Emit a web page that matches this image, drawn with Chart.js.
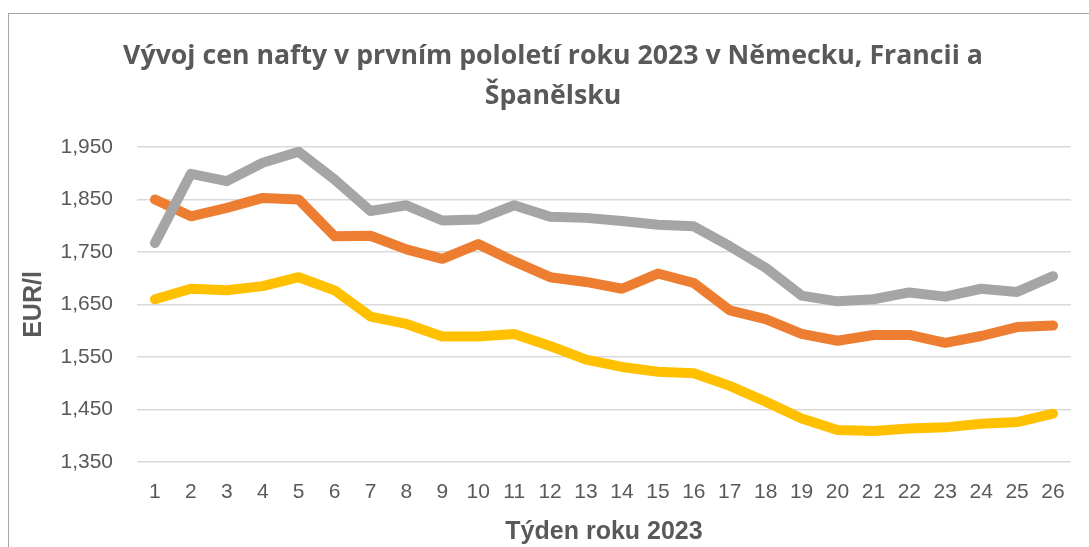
<!DOCTYPE html>
<html>
<head>
<meta charset="utf-8">
<script src="https://cdn.jsdelivr.net/npm/chart.js@4"></script>
<style>
  html, body { margin: 0; padding: 0; background: #fff; overflow: hidden; }
  #wrap { position: relative; width: 1089px; height: 547px; }
  #frame { position: absolute; left: 8px; top: 13px; width: 1200px; height: 600px;
           border-left: 1.5px solid #a6a6a6; border-top: 1.5px solid #a6a6a6; }
  canvas { position: absolute; left: 0; top: 0; }
</style>
</head>
<body>
<div id="wrap">
  <div id="frame"></div>
  <canvas id="fuelChart" width="1089" height="547"></canvas>
</div>
<script>
// weeks of 2023
const weeks = ['1', '2', '3', '4', '5', '6', '7', '8', '9', '10', '11', '12', '13',
               '14', '15', '16', '17', '18', '19', '20', '21', '22', '23', '24', '25', '26'];

// EUR per litre
const germany = [1.767, 1.899, 1.885, 1.920, 1.941, 1.888, 1.828, 1.839, 1.810, 1.812, 1.839, 1.817, 1.815,
                 1.809, 1.802, 1.799, 1.761, 1.720, 1.667, 1.656, 1.660, 1.673, 1.665, 1.680, 1.674, 1.704];
const france = [1.850, 1.818, 1.834, 1.853, 1.850, 1.780, 1.781, 1.755, 1.737, 1.765, 1.732, 1.702, 1.693,
                1.680, 1.709, 1.691, 1.639, 1.622, 1.594, 1.581, 1.592, 1.592, 1.577, 1.590, 1.607, 1.610];
const spain = [1.660, 1.680, 1.677, 1.685, 1.702, 1.677, 1.627, 1.613, 1.589, 1.589, 1.594, 1.571, 1.545,
               1.531, 1.522, 1.519, 1.495, 1.465, 1.433, 1.411, 1.409, 1.414, 1.416, 1.423, 1.426, 1.442];

const yMin = 1.35;
const yMax = 1.95;
const yStep = 0.1;

const textColor = '#595959';

function lineSet(label, data, color) {
    return {
        label: label,
        data: data,
        borderColor: color,
        backgroundColor: color,
        borderWidth: 10,
        borderCapStyle: 'round',
        borderJoinStyle: 'round',
        pointRadius: 0,
        tension: 0,
        fill: false
    };
}

document.addEventListener('DOMContentLoaded', function () {
    const ctx = document.getElementById('fuelChart').getContext('2d');
    new Chart(ctx, {
        type: 'line',
        data: {
            labels: weeks,
            // first dataset is drawn on top
            datasets: [
                lineSet('Německo', germany, '#a5a5a5'),
                lineSet('Francie', france, '#ed7d31'),
                lineSet('Španělsko', spain, '#ffc000')
            ]
        },
        options: {
            responsive: false,
            animation: false,
            layout: { padding: { left: 35, right: 18, top: 0, bottom: 0 } },
            plugins: {
                legend: { display: false },
                tooltip: { enabled: false },
                title: {
                    display: true,
                    text: ['Vývoj cen nafty v prvním pololetí roku 2023 v Německu, Francii a', 'Španělsku'],
                    color: textColor,
                    font: { family: 'Open Sans', size: 26.7, weight: 'bold', lineHeight: '40px' },
                    padding: { top: 36, bottom: 31 }
                }
            },
            scales: {
                x: {
                    offset: true,
                    grid: { display: false, drawTicks: false },
                    border: { display: false },
                    ticks: {
                        color: textColor,
                        font: { family: 'Liberation Sans', size: 21 },
                        padding: 18,
                        maxRotation: 0,
                        autoSkip: false
                    },
                    title: {
                        display: true,
                        text: 'Týden roku 2023',
                        color: textColor,
                        font: { family: 'Liberation Sans', size: 25, weight: 'bold' },
                        padding: { top: 0, bottom: 0 }
                    },
                    afterFit: function (scale) { scale.height = 85; }
                },
                y: {
                    min: yMin,
                    max: yMax,
                    grid: { color: '#d9d9d9', lineWidth: 1.5, drawTicks: false },
                    border: { display: false },
                    ticks: {
                        stepSize: yStep,
                        color: textColor,
                        font: { family: 'Liberation Sans', size: 21 },
                        padding: 24,
                        callback: function (v) { return v.toFixed(3).replace('.', ','); }
                    },
                    title: {
                        display: true,
                        text: 'EUR/l',
                        color: textColor,
                        font: { family: 'Liberation Sans', size: 25, weight: 'bold' },
                        padding: { top: -16, bottom: 0 }
                    },
                    afterFit: function (scale) { scale.width = 102; }
                }
            }
        }
    });
});
</script>
</body>
</html>
